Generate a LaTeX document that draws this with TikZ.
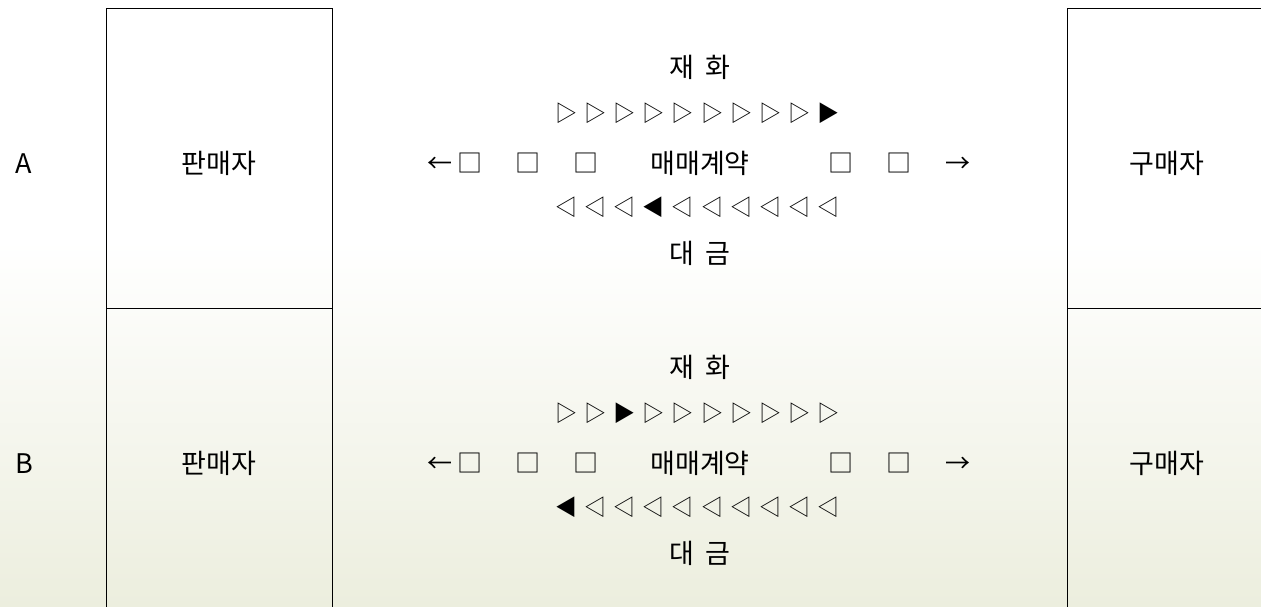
\documentclass[tikz,border=0pt]{standalone}
\usepackage{fontspec}
\newfontfamily\kr{Noto Sans CJK KR}
\definecolor{bgb}{RGB}{236,238,222}
\tikzset{
  txt/.style={font=\kr\fontsize{27}{27}\selectfont, inner sep=0pt, anchor=base},
  sym/.style={font=\kr\fontsize{25}{25}\selectfont, inner sep=0pt, anchor=base},
  tri/.style={font=\kr\fontsize{22}{22}\selectfont, inner sep=0pt, anchor=base},
  frame/.style={draw=black, line width=0.9pt, inner sep=0pt, minimum width=226pt, anchor=north west}
}
\begin{document}
\begin{tikzpicture}[x=1pt,y=-1pt]
\useasboundingbox (0,0) rectangle (1261,606);
\fill[white] (0,0) rectangle (1261,240);
\shade[top color=white, bottom color=bgb] (0,240) rectangle (1261,606);

% boxes
\node[frame, minimum height=300pt] (sellA) at (106,8) {};
\node[frame, minimum height=300pt] (sellB) at (106,308) {};
\node[frame, minimum width=200pt, minimum height=300pt] (buyA) at (1067,8) {};
\node[frame, minimum width=200pt, minimum height=300pt] (buyB) at (1067,308) {};

% row labels
\node[txt] (labA) at (24,173) {A};
\node[txt] (labB) at (24,473) {B};
\node[txt] (tsA) at (219,173) {판매자};
\node[txt] (tsB) at (219,473) {판매자};
\node[txt] (tbA) at (1167,173) {구매자};
\node[txt] (tbB) at (1167,473) {구매자};

\foreach \o/\s/\fa/\fb in {0/A/9/3, 300/B/2/0} {
  \node[txt] (goods\s) at (700,{77+\o}) {재\hspace{12pt}화};
  \node[txt] (money\s) at (700,{263+\o}) {대\hspace{12pt}금};
  \foreach \i in {0,...,9} {
    \node[tri] (r\s\i) at ({566+29.2*\i},{121+\o}) {\ifnum\i=\fa ▶\else ▷\fi};
    \node[tri] (l\s\i) at ({566+29.2*\i},{215+\o}) {\ifnum\i=\fb ◀\else ◁\fi};
  }
  \node[sym] (la\s) at (440,{172+\o}) {←};
  \node[sym] (q1\s) at (470,{172+\o}) {□};
  \node[sym] (q2\s) at (528,{172+\o}) {□};
  \node[sym] (q3\s) at (586,{172+\o}) {□};
  \node[txt] (ct\s) at (700,{173+\o}) {매매계약};
  \node[sym] (q4\s) at (841,{172+\o}) {□};
  \node[sym] (q5\s) at (899,{172+\o}) {□};
  \node[sym] (ra\s) at (958,{172+\o}) {→};
}
\end{tikzpicture}
\end{document}
